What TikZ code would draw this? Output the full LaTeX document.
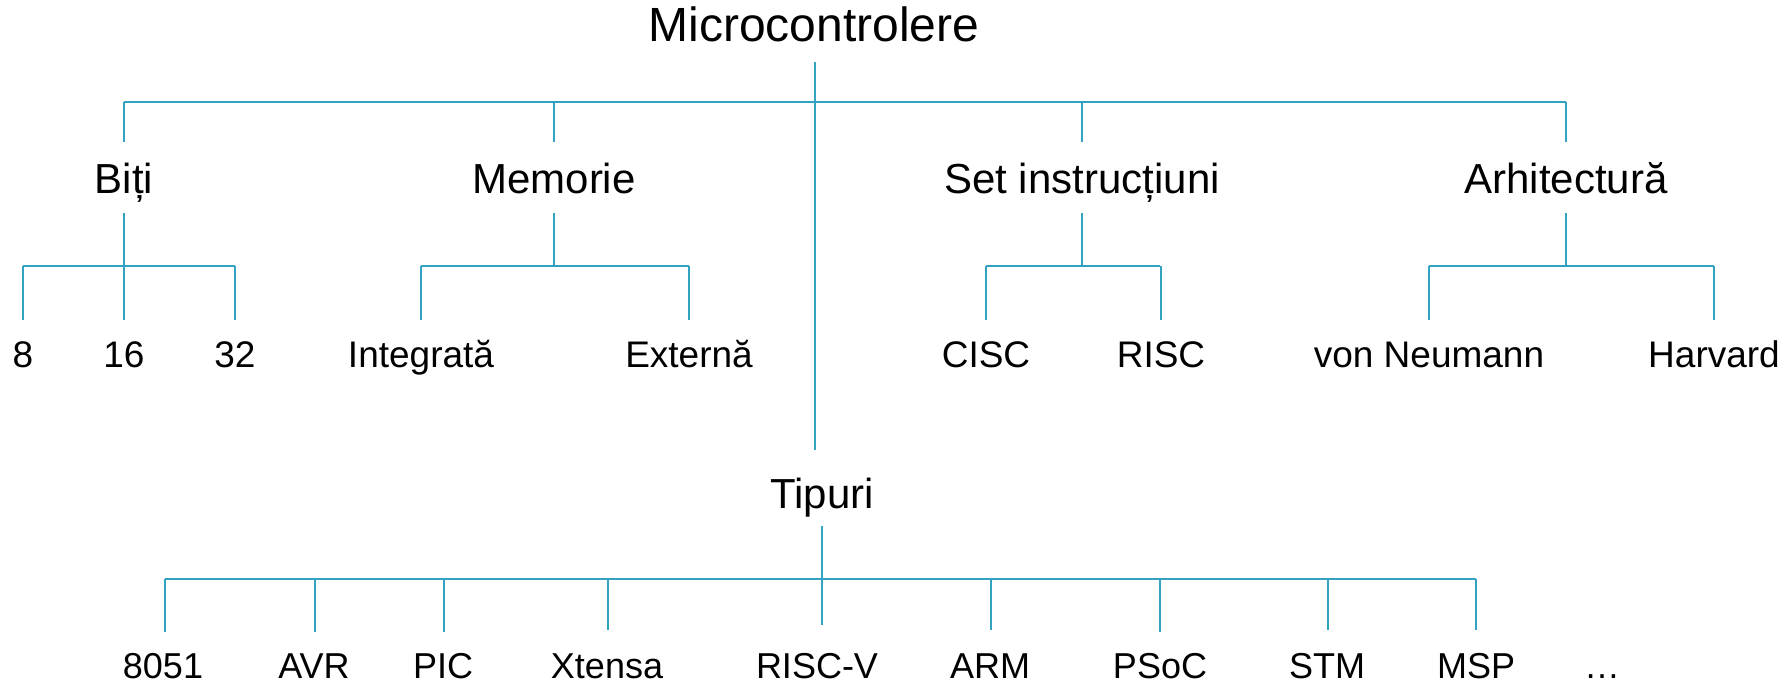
\documentclass[tikz,border=0pt]{standalone}
\usepackage{fontspec}
\setmainfont{Liberation Sans}
\definecolor{linec}{HTML}{31A2C2}
\begin{document}
\begin{tikzpicture}[x=1pt,y=-1pt,
  conn/.style={draw=linec,line width=2.7pt},
  ttl/.style={inner sep=0,anchor=base,font=\fontsize{48}{52}\selectfont},
  cat/.style={inner sep=0,anchor=base,font=\fontsize{42}{46}\selectfont},
  leaf/.style={inner sep=0,anchor=base,font=\fontsize{37}{40}\selectfont},
  bleaf/.style={inner sep=0,anchor=base,font=\fontsize{36}{40}\selectfont}]
\useasboundingbox (0,0) rectangle (1790,684);
% root
\node[ttl] (root) at (814,42) {Microcontrolere};
\coordinate (rootT) at (815,62);
\coordinate (rootB) at (815,450);
\coordinate (barL) at (124,102);
\coordinate (barR) at (1566,102);
\draw[conn] (rootT) -- (rootB);
\draw[conn] (barL) -- (barR);
% categories
\foreach \n/\x/\t/\l/\r in {biti/124/Biți/23/235, mem/554/Memorie/421/689, set/1082/Set instrucțiuni/986/1160, arh/1566/Arhitectură/1429/1714}{
  \node[cat] (\n) at (\x,194) {\t};
  \coordinate (\n-a) at (\x,102);
  \coordinate (\n-b) at (\x,142);
  \coordinate (\n-c) at (\x,213);
  \coordinate (\n-d) at (\x,266);
  \coordinate (\n-l) at (\l,266);
  \coordinate (\n-r) at (\r,266);
  \draw[conn] (\n-a) -- (\n-b);
  \draw[conn] (\n-c) -- (\n-d);
  \draw[conn] (\n-l) -- (\n-r);
}
% leaves
\foreach \n/\x/\t in {l8/23/8, l16/124/16, l32/235/32, lint/421/Integrată, lext/689/Externă, lcisc/986/CISC, lrisc/1161/RISC, lvon/1429/von Neumann, lharv/1714/Harvard}{
  \node[leaf] (\n) at (\x,367) {\t};
  \coordinate (\n-j) at (\x,266);
  \coordinate (\n-e) at (\x,320);
  \draw[conn] (\n-j) -- (\n-e);
}
% Tipuri
\node[cat] (tip) at (822,508) {Tipuri};
\coordinate (tipT) at (822,526);
\coordinate (tipJ) at (822,579);
\coordinate (bbarL) at (165,579);
\coordinate (bbarR) at (1476,579);
\draw[conn] (tipT) -- (tipJ);
\draw[conn] (bbarL) -- (bbarR);
\foreach \n/\x/\tx/\t/\e in {b8051/165/163/8051/632, bavr/315/314/AVR/632, bpic/444/443/PIC/632, bxt/608/607/Xtensa/630, briscv/822/817/RISC-V/625, barm/991/990/ARM/630, bpsoc/1160/1160/PSoC/632, bstm/1328/1327/STM/630, bmsp/1476/1476/MSP/630}{
  \node[bleaf] (\n) at (\tx,678) {\t};
  \coordinate (\n-j) at (\x,579);
  \coordinate (\n-e) at (\x,\e);
  \draw[conn] (\n-j) -- (\n-e);
}
\node[bleaf] (bdots) at (1602,678) {…};
\end{tikzpicture}
\end{document}
